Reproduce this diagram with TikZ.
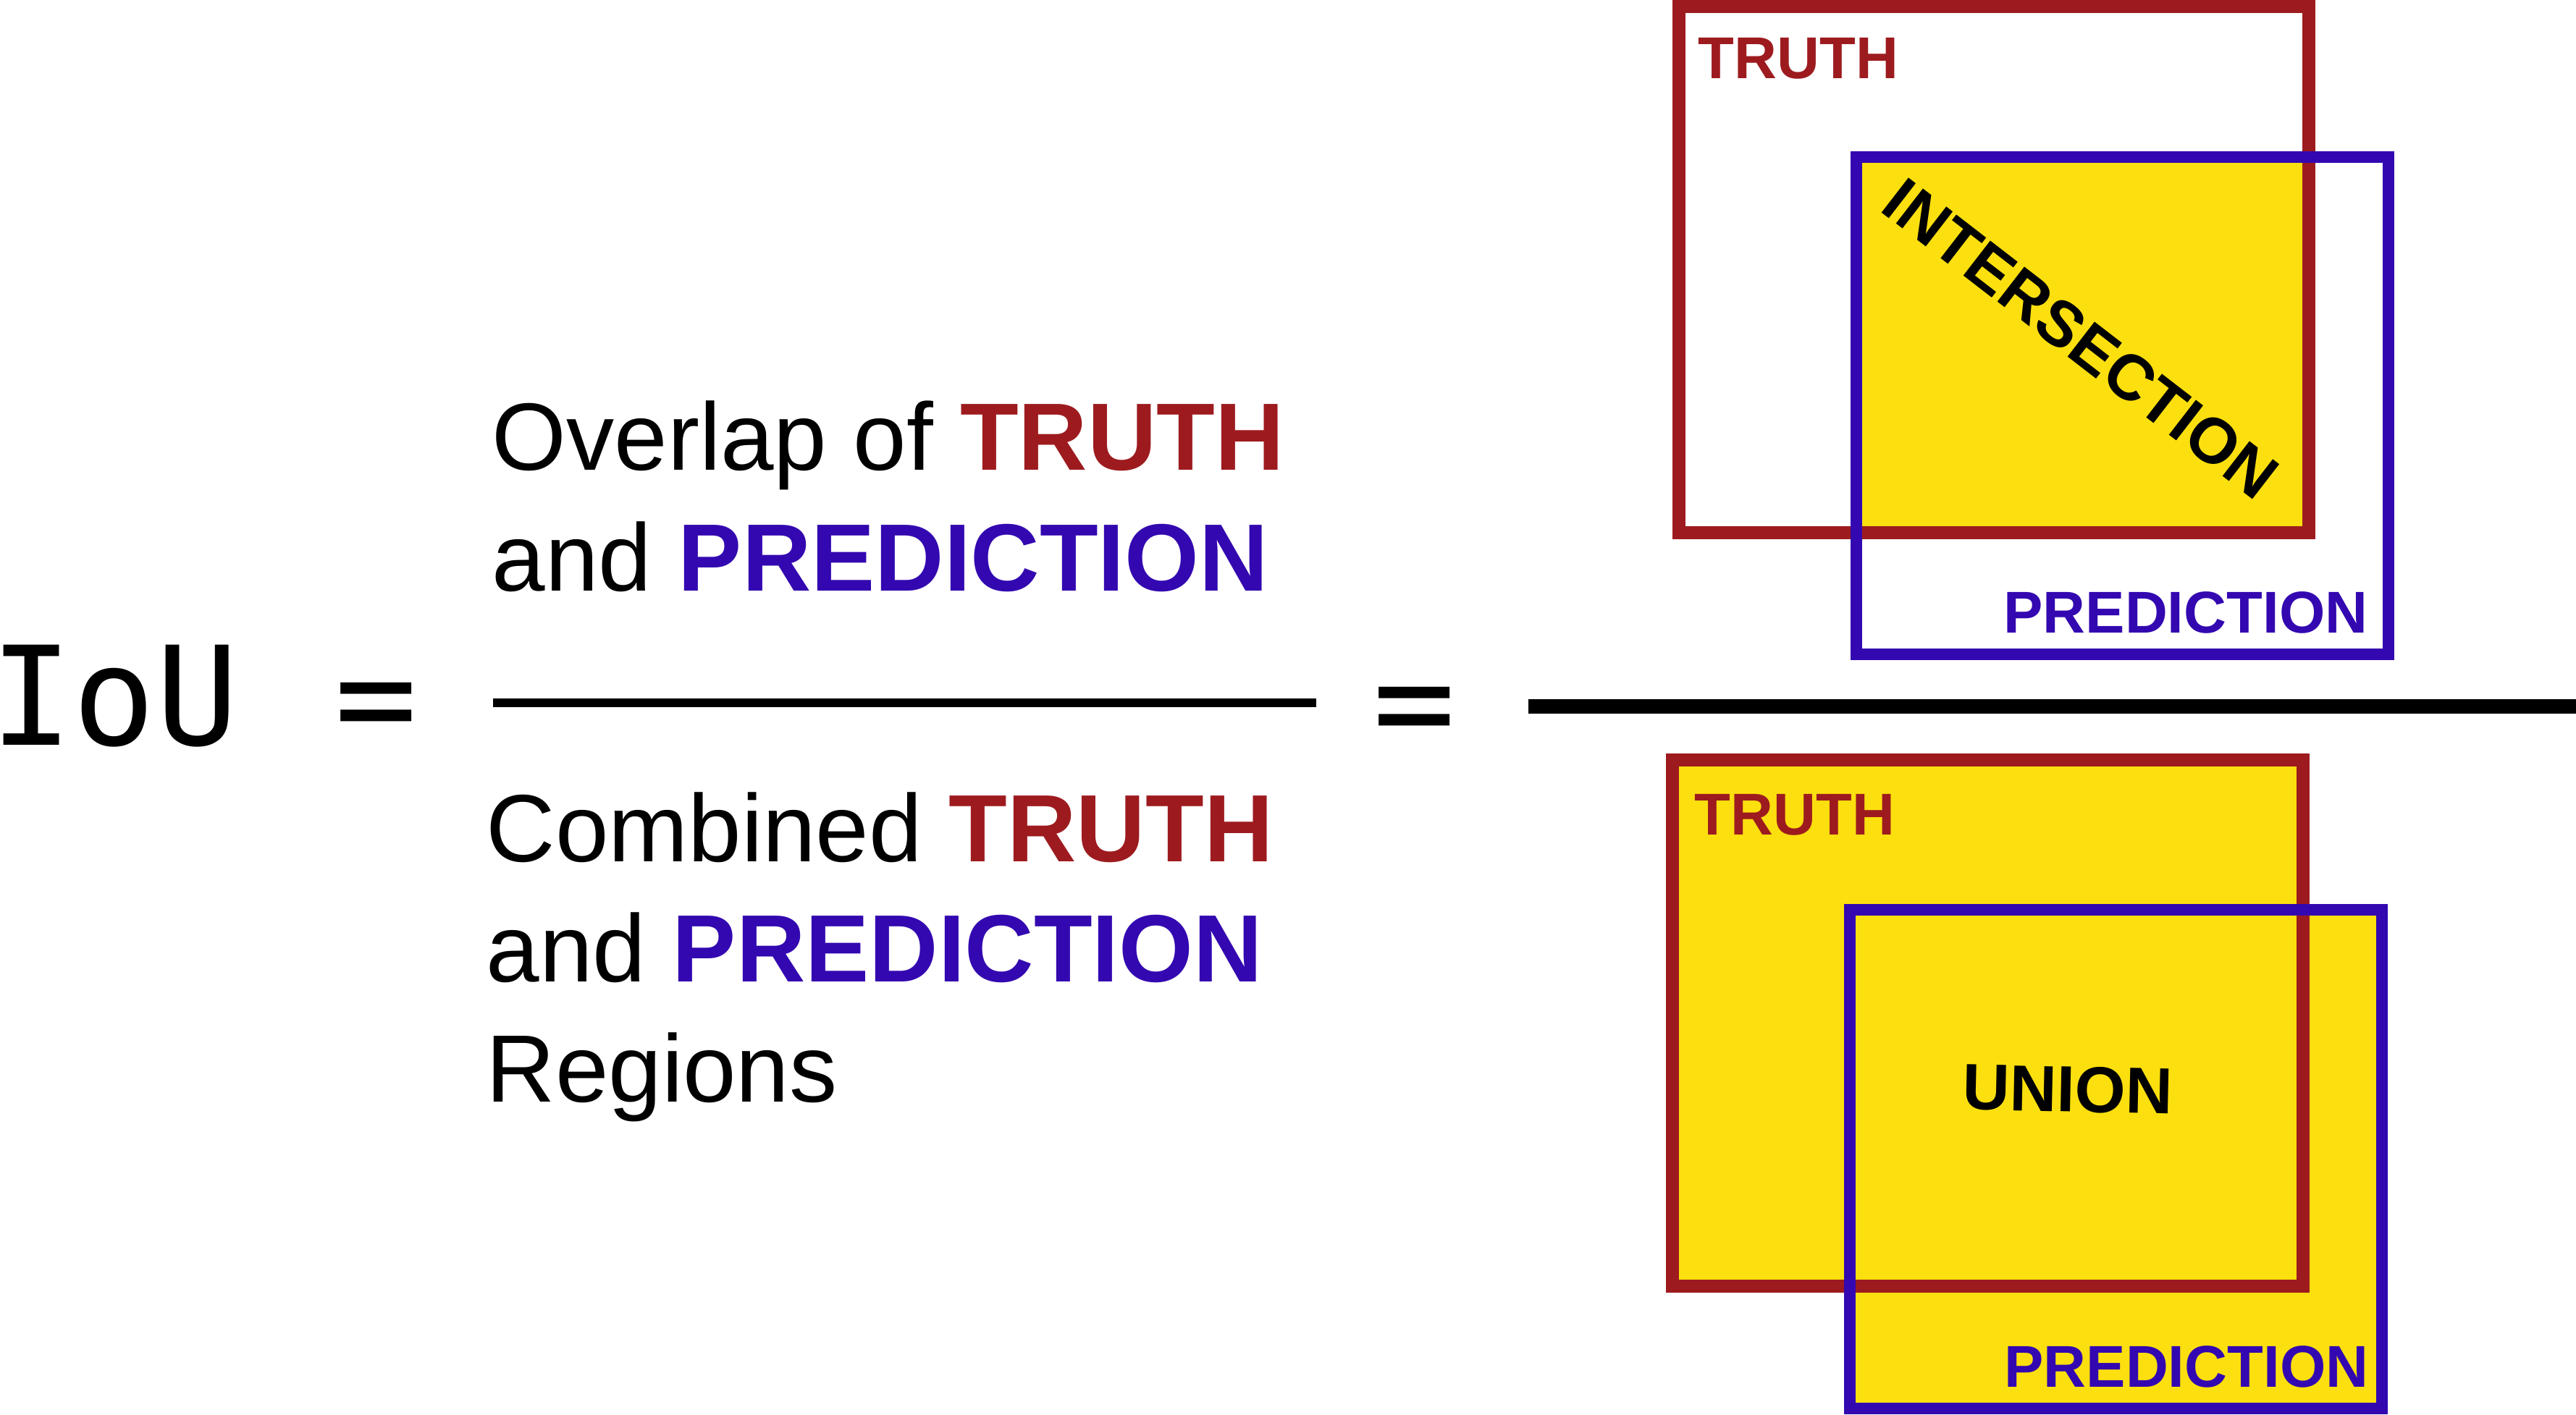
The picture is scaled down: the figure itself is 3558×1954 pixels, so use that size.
\documentclass[tikz,border=0pt]{standalone}
\usepackage{fontspec}
\setmainfont{Liberation Sans}
\newfontfamily\iouMono{DejaVu Sans Mono}
\usepackage{xcolor}
\definecolor{truthred}{RGB}{157,27,31}
\definecolor{predblue}{RGB}{51,8,176}
\definecolor{iouyellow}{RGB}{252,223,14}
\newcommand{\truthword}{\textcolor{truthred}{\bfseries TRUTH}}
\newcommand{\predword}{\textcolor{predblue}{\bfseries PREDICTION}}

\begin{document}
\begin{tikzpicture}[x=0.1mm,y=-0.1mm,
    txt/.style={anchor=base west, inner sep=0, font=\fontsize{37.6}{44}\selectfont},
    mono/.style={inner sep=0, font=\iouMono\fontsize{54}{60}\selectfont},
    tag/.style={inner sep=0, font=\bfseries\fontsize{23.2}{26}\selectfont},
    truthbox/.style={draw=truthred, line width=5.1pt},
    predbox/.style={draw=predblue, line width=4.5pt}]
\useasboundingbox (0,0) rectangle (3558,1954);

% IoU =
\node[mono, anchor=base west] (iou) at (-14,1029) {IoU};
\node[mono, anchor=base] (eqA) at (520,1029) {=};

% fraction in words
\node[txt] (overlap) at (679,649) {Overlap of \truthword};
\node[txt] (overlapB) at (679,816) {and \predword};
\draw[line width=3.4pt] (681,971) -- (1818,971);
\node[txt] (combined) at (671,1190) {Combined \truthword};
\node[txt] (combinedB) at (671,1356) {and \predword};
\node[txt] (regions) at (671,1522) {Regions};

\node[mono, anchor=base] (eqB) at (1954,1035) {=};
\draw[line width=5.7pt] (2111,975.5) -- (3558,975.5);

% intersection
\fill[iouyellow] (2564,217) rectangle (3189,736);
\draw[truthbox] (2319,9) rectangle (3189,736);
\draw[predbox] (2564,217) rectangle (3299,904);
\node[tag, text=truthred, anchor=base west] (truthA) at (2345,108) {TRUTH};
\node[tag, text=predblue, anchor=base east] (predA) at (3271,874) {PREDICTION};
\node[inner sep=0, rotate=-37.7, font=\bfseries\fontsize{25.2}{28}\selectfont] (inter) at (2874,468) {INTERSECTION};

% union
\fill[iouyellow] (2310,1050) rectangle (3181,1777);
\fill[iouyellow] (2555,1257) rectangle (3290,1946);
\draw[truthbox] (2310,1050) rectangle (3181,1777);
\draw[predbox] (2555,1257) rectangle (3290,1946);
\node[tag, text=truthred, anchor=base west] (truthB) at (2340,1153) {TRUTH};
\node[tag, text=predblue, anchor=base east] (predB) at (3272,1916) {PREDICTION};
\node[inner sep=0, rotate=-1.2, font=\bfseries\fontsize{25.6}{28}\selectfont] (union) at (2856,1505) {UNION};
\end{tikzpicture}
\end{document}
